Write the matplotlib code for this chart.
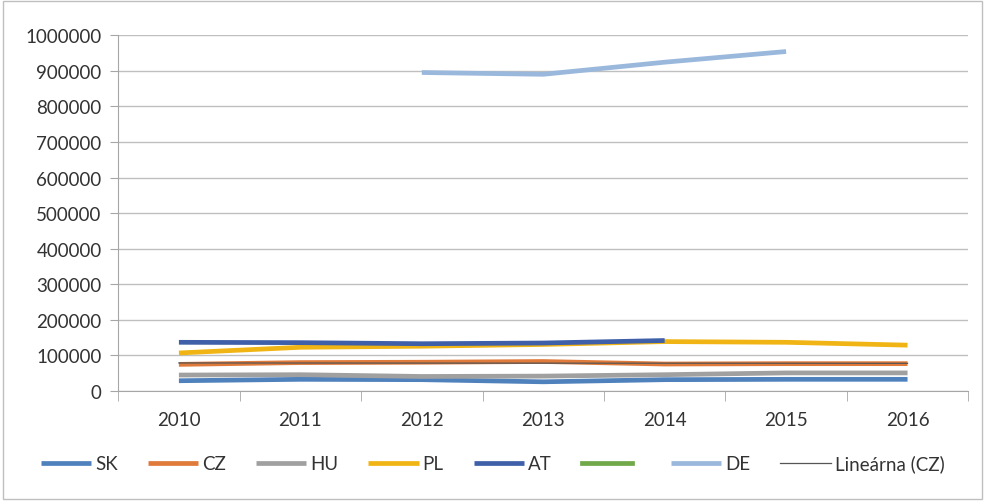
import matplotlib.pyplot as plt
import numpy as np

plt.rcParams['font.family'] = ['Lato', 'DejaVu Sans']

years = ['2010', '2011', '2012', '2013', '2014', '2015', '2016']
SK = [29000, 33000, 32000, 26000, 32000, 33000, 33000]
CZ = [75000, 80000, 81000, 83000, 76000, 77000, 77000]
HU = [45000, 46000, 41000, 42000, 46000, 51000, 51000]
PL = [107000, 123000, 126000, 131000, 139000, 137000, 129000]
AT = [137000, 136000, 133000, 135000, 142000, None, None]
DE = [None, None, 895000, 890000, 924000, 954000, None]

def arr(v):
    return np.array([np.nan if a is None else a for a in v], dtype=float)

x = np.arange(len(years))
fig = plt.figure(figsize=(9.85, 5.02), dpi=100)
ax = fig.add_axes([0.12, 0.219, 0.863, 0.709])

ax.plot(x, arr(SK), color='#4f81bd', lw=3.4, label='SK', solid_capstyle='butt')
ax.plot(x, arr(CZ), color='#e07a3a', lw=3.4, label='CZ', solid_capstyle='butt')
ax.plot(x, arr(HU), color='#a0a0a0', lw=3.4, label='HU', solid_capstyle='butt')
ax.plot(x, arr(PL), color='#f0b414', lw=3.4, label='PL', solid_capstyle='butt')
ax.plot(x, arr(AT), color='#3f60a8', lw=3.4, label='AT', solid_capstyle='butt')
ax.plot([], [], color='#70a84a', lw=3.4, label=' ')
ax.plot(x, arr(DE), color='#9ab8dc', lw=3.4, label='DE', solid_capstyle='butt')

# linear trend of CZ
k, b = np.polyfit(x, CZ, 1)
ax.plot(x, k * x + b, color='#555555', lw=0.9, label='Lineárna (CZ)')

ax.set_xlim(-0.5, 6.5)
ax.set_ylim(0, 1000000)
ax.set_yticks(np.arange(0, 1000001, 100000))
ax.set_yticklabels([str(v) for v in range(0, 1000001, 100000)])
ax.set_xticks(x)
ax.set_xticklabels(years)
ax.set_xticks(np.arange(-0.5, 7, 1), minor=True)
ax.tick_params(axis='x', which='major', length=0, pad=14, labelsize=13.5)
ax.tick_params(axis='x', which='minor', length=7, color='#a6a6a6', direction='out')
ax.tick_params(axis='y', length=6, color='#a6a6a6', labelsize=13.5, pad=6)
for lbl in ax.get_xticklabels() + ax.get_yticklabels():
    lbl.set_color('#333333')
ax.grid(axis='y', color='#bfbfbf', lw=1)
ax.set_axisbelow(True)
for s in ['top', 'right']:
    ax.spines[s].set_visible(False)
ax.spines['left'].set_color('#a6a6a6')
ax.spines['bottom'].set_color('#a6a6a6')

handles, labels = ax.get_legend_handles_labels()
leg = fig.legend(handles, labels, loc='center', bbox_to_anchor=(0.5, 0.075), ncol=8,
                 frameon=False, handlelength=2.7, handletextpad=0.2, columnspacing=1.6,
                 fontsize=13.5)
for t in leg.get_texts():
    t.set_color('#333333')

# figure border
fig.patches.append(plt.Rectangle((0.003, 0.003), 0.994, 0.994, transform=fig.transFigure,
                                 fill=False, edgecolor='#bfbfbf', lw=1))

fig.savefig('out.png', dpi=100)
